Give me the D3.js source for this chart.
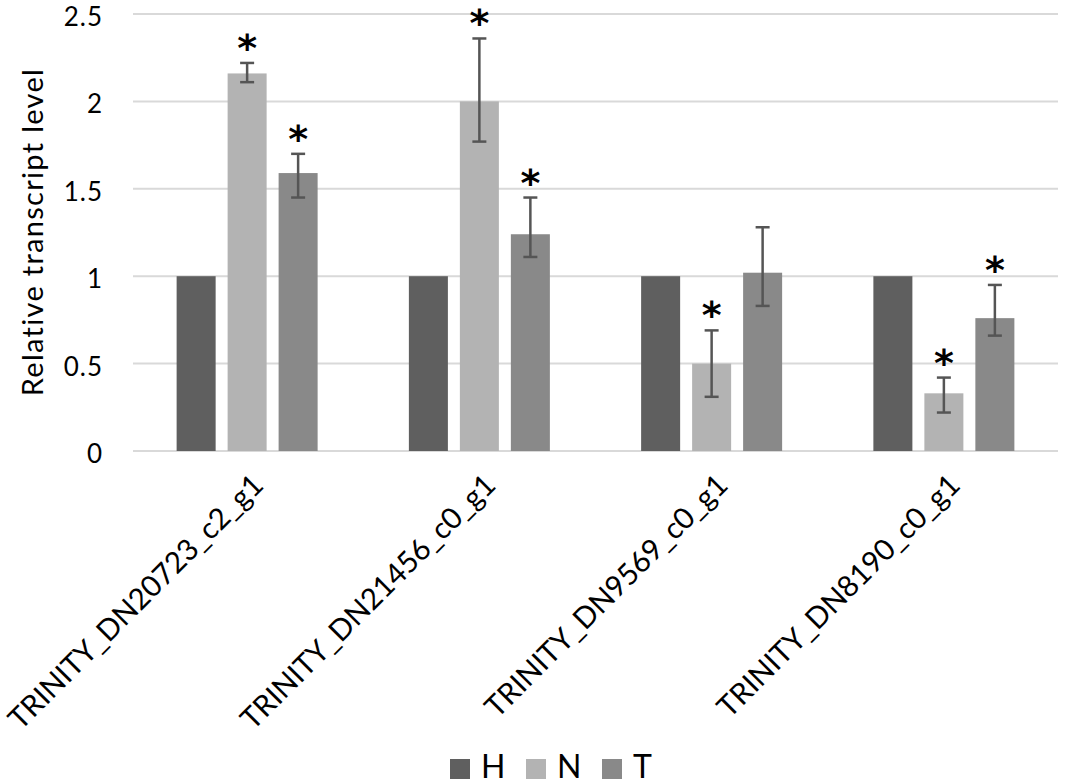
<!DOCTYPE html>
<html>
<head>
<meta charset="utf-8">
<script src="https://cdn.jsdelivr.net/npm/d3@7"></script>
<style>
	body { margin: 0; background: #fff; }
	svg text { font-family: Lato, "Open Sans", sans-serif; fill: #000; }
</style>
</head>
<body>
<div id="chart"></div>
<script>
// genes on the x axis
const genes = ['TRINITY_DN20723_c2_g1', 'TRINITY_DN21456_c0_g1', 'TRINITY_DN9569_c0_g1', 'TRINITY_DN8190_c0_g1']
const groups = ['H', 'N', 'T']

// relative transcript level, one array per treatment
const valH = [1, 1, 1, 1]
const valN = [2.16, 2.0, 0.5, 0.33]
const valT = [1.59, 1.24, 1.02, 0.76]

// error bar ends (low / high)
const lowN  = [2.11, 1.77, 0.31, 0.22]
const highN = [2.22, 2.36, 0.69, 0.42]
const lowT  = [1.45, 1.11, 0.83, 0.66]
const highT = [1.70, 1.45, 1.28, 0.95]

// significance marks
const starN = [true, true, true, true]
const starT = [true, true, false, true]

const yTicks = [0, 0.5, 1, 1.5, 2, 2.5]
const yTickLabels = ['0', '0.5', '1', '1.5', '2', '2.5']

const colors = { H: '#5f5f5f', N: '#b3b3b3', T: '#898989' }

const W = 1079, H = 784
const svg = d3.select('#chart').append('svg')
	.attr('width', W)
	.attr('height', H)

const x0 = d3.scaleBand()
	.domain(genes)
	.range([131, 1060])

const x1 = d3.scaleBand()
	.domain(groups)
	.range([x0.bandwidth() / 2 - 70.5, x0.bandwidth() / 2 + 70.5])
	.paddingInner(0.235)

const y = d3.scaleLinear()
	.domain([0, 2.5])
	.range([451, 14])

// gridlines
svg.append('g')
	.selectAll('line')
	.data(yTicks)
	.join('line')
	.attr('x1', 133)
	.attr('x2', 1058)
	.attr('y1', d => y(d))
	.attr('y2', d => y(d))
	.attr('stroke', '#d9d9d9')
	.attr('stroke-width', 2)

// y tick labels
svg.append('g')
	.selectAll('text')
	.data(yTicks)
	.join('text')
	.attr('x', 103)
	.attr('y', d => y(d) + 12)
	.attr('text-anchor', 'end')
	.style('font-size', '26px')
	.style('letter-spacing', '1px')
	.text((d, i) => yTickLabels[i])

svg.append('text')
	.attr('transform', 'translate(43,232) rotate(-90)')
	.attr('text-anchor', 'middle')
	.style('font-size', '29px')
	.style('letter-spacing', '1.3px')
	.text('Relative transcript level')

const rows = genes.map((g, i) => ({
	gene: g,
	bars: [
		{ key: 'H', value: valH[i], lo: null, hi: null, star: false },
		{ key: 'N', value: valN[i], lo: lowN[i], hi: highN[i], star: starN[i] },
		{ key: 'T', value: valT[i], lo: lowT[i], hi: highT[i], star: starT[i] }
	]
}))

const gGroup = svg.append('g')
	.selectAll('g')
	.data(rows)
	.join('g')
	.attr('transform', d => `translate(${x0(d.gene)},0)`)

gGroup.selectAll('rect')
	.data(d => d.bars)
	.join('rect')
	.attr('x', d => x1(d.key))
	.attr('width', x1.bandwidth())
	.attr('y', d => y(d.value))
	.attr('height', d => y(0) - y(d.value))
	.attr('fill', d => colors[d.key])

// error bars
const err = gGroup.selectAll('g.err')
	.data(d => d.bars.filter(b => b.lo != null))
	.join('g')
	.attr('class', 'err')
	.attr('transform', d => `translate(${x1(d.key) + x1.bandwidth() / 2},0)`)
	.attr('stroke', '#555')
	.attr('stroke-width', 2.5)

err.append('line')
	.attr('y1', d => y(d.lo))
	.attr('y2', d => y(d.hi))
err.append('line')
	.attr('x1', -7).attr('x2', 7)
	.attr('y1', d => y(d.hi)).attr('y2', d => y(d.hi))
err.append('line')
	.attr('x1', -7).attr('x2', 7)
	.attr('y1', d => y(d.lo)).attr('y2', d => y(d.lo))

// asterisks
gGroup.selectAll('text.star')
	.data(d => d.bars.filter(b => b.star))
	.join('text')
	.attr('class', 'star')
	.attr('x', d => x1(d.key) + x1.bandwidth() / 2)
	.attr('y', d => y(d.hi) - 2)
	.attr('text-anchor', 'middle')
	.style('font-family', '"DejaVu Sans", sans-serif')
	.style('font-size', '38px')
	.style('font-weight', 'bold')
	.text('*')

// x labels
svg.append('g')
	.selectAll('text')
	.data(genes)
	.join('text')
	.attr('transform', d => `translate(${x0(d) + x0.bandwidth() / 2 + 18},${487}) rotate(-45)`)
	.attr('text-anchor', 'end')
	.style('font-size', '29.5px')
	.text(d => d)

// legend
const leg = svg.append('g')
	.selectAll('g')
	.data(groups)
	.join('g')
	.attr('transform', (d, i) => `translate(${450 + i * 76},759)`)

leg.append('rect')
	.attr('width', 20)
	.attr('height', 20)
	.attr('fill', d => colors[d])
leg.append('text')
	.attr('x', 31)
	.attr('y', 19)
	.style('font-size', '32px')
	.text(d => d)
</script>
</body>
</html>
